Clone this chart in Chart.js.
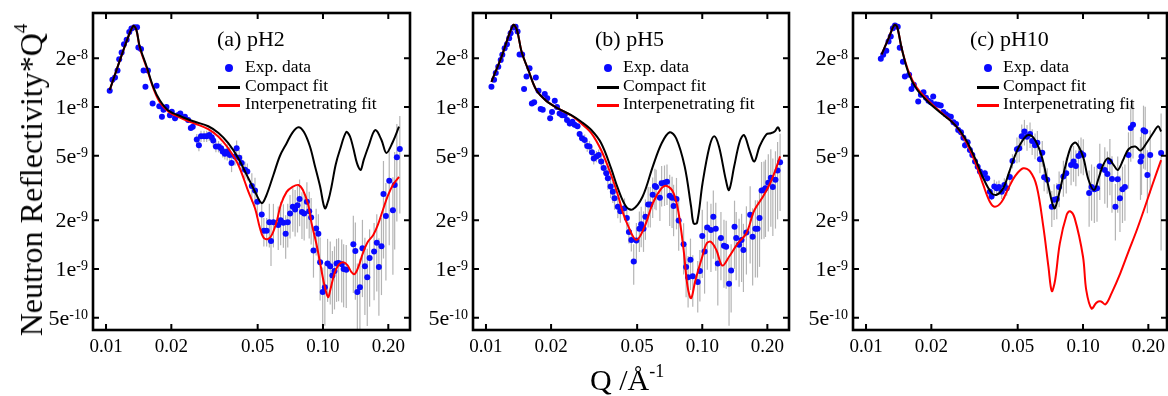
<!DOCTYPE html>
<html>
<head>
<meta charset="utf-8">
<script src="https://cdn.jsdelivr.net/npm/chart.js@4.4.1/dist/chart.umd.min.js"></script>
<style>
  body { margin: 0; width: 1168px; height: 396px; overflow: hidden; position: relative; background: #fff;
         font-family: "Liberation Serif", "Times New Roman", serif; color: #000; }
  .panel { position: absolute; top: 0; }
  .txt { position: absolute; white-space: nowrap; line-height: 1; }
  .title { font-size: 22px; }
  .leg { font-size: 17.5px; }
  .dot { position: absolute; width: 8px; height: 8px; border-radius: 50%; background: rgb(10,10,255); }
  .bar { position: absolute; width: 22px; height: 2.5px; }
  .sup { position: relative; }
</style>
</head>
<body>

<div class="panel" style="left:40px"><canvas id="chartA" width="378" height="370"></canvas></div>
<div class="panel" style="left:420px"><canvas id="chartB" width="377" height="370"></canvas></div>
<div class="panel" style="left:800px"><canvas id="chartC" width="375" height="370"></canvas></div>

<!-- panel titles and legends -->
<div class="txt title" style="left:217px;top:28px">(a) pH2</div>
<div class="dot" style="left:225px;top:64px"></div>
<div class="txt leg" style="left:245px;top:58px">Exp. data</div>
<div class="bar" style="left:218px;top:86px;background:#000"></div>
<div class="txt leg" style="left:245px;top:77px">Compact fit</div>
<div class="bar" style="left:218px;top:104px;background:#f00"></div>
<div class="txt leg" style="left:245px;top:95px">Interpenetrating fit</div>

<div class="txt title" style="left:595px;top:28px">(b) pH5</div>
<div class="dot" style="left:604px;top:64px"></div>
<div class="txt leg" style="left:623px;top:58px">Exp. data</div>
<div class="bar" style="left:597px;top:86px;background:#000"></div>
<div class="txt leg" style="left:623px;top:77px">Compact fit</div>
<div class="bar" style="left:597px;top:104px;background:#f00"></div>
<div class="txt leg" style="left:623px;top:95px">Interpenetrating fit</div>

<div class="txt title" style="left:970px;top:28px">(c) pH10</div>
<div class="dot" style="left:984px;top:64px"></div>
<div class="txt leg" style="left:1003px;top:58px">Exp. data</div>
<div class="bar" style="left:977px;top:86px;background:#000"></div>
<div class="txt leg" style="left:1003px;top:77px">Compact fit</div>
<div class="bar" style="left:977px;top:104px;background:#f00"></div>
<div class="txt leg" style="left:1003px;top:95px">Interpenetrating fit</div>

<!-- axis titles -->
<div class="txt" style="left:31px;top:180px;font-size:32px;transform:translate(-50%,-50%) rotate(-90deg)">Neutron Reflectivity*Q<span class="sup" style="font-size:19px;top:-15px">4</span></div>
<div class="txt" style="left:590px;top:365px;font-size:30px">Q /Å<span class="sup" style="font-size:18px;top:-13px">-1</span></div>

<script>
// axis ticks
const xTicks = [0.01, 0.02, 0.05, 0.1, 0.2];
const xTickLabels = ['0.01', '0.02', '0.05', '0.10', '0.20'];
const yTicks = [5e-10, 1e-9, 2e-9, 5e-9, 1e-8, 2e-8];
const yTickLabels = [['5e', '-10'], ['1e', '-9'], ['2e', '-9'], ['5e', '-9'], ['1e', '-8'], ['2e', '-8']];

// (a) pH2 : experimental data, relative errors
const qA = [0.0104,0.0107,0.0110,0.0113,0.0115,0.0118,0.0121,0.01245,0.0128,0.0131,
  0.0135,0.0139,0.0141,0.0145,0.0149,0.0152,0.0156,0.0164,0.0171,0.0176,
  0.0181,0.0184,0.0190,0.0197,0.0201,0.0208,0.0214,0.0220,0.0231,0.0239,
  0.0246,0.0251,0.0262,0.0268,0.0274,0.0283,0.0291,0.0299,0.0307,0.0312,
  0.0321,0.0330,0.0339,0.0345,0.0353,0.0362,0.0372,0.0379,0.0393,0.0400,
  0.0411,0.0422,0.0437,0.0448,0.0470,0.0486,0.0498,0.0522,0.0534,0.0550,
  0.0566,0.0576,0.0591,0.0622,0.0638,0.0657,0.0673,0.0688,0.0705,0.0726,
  0.0744,0.0763,0.0780,0.0800,0.0819,0.0843,0.0864,0.0882,0.0904,0.0930,
  0.0952,0.0970,0.0997,0.1020,0.1050,0.1080,0.1105,0.1130,0.1155,0.1180,
  0.1220,0.1245,0.1280,0.1380,0.1410,0.1440,0.1480,0.1520,0.1560,0.1600,
  0.1640,0.1720,0.1770,0.1810,0.1860,0.1900,0.1950,0.2020,0.2100,0.2140,
  0.2190,0.2260];
const rA = [1.26e-8,1.47e-8,1.52e-8,1.68e-8,1.97e-8,2.17e-8,2.44e-8,2.60e-8,2.90e-8,3.05e-8,
  3.10e-8,3.10e-8,2.33e-8,2.28e-8,1.68e-8,1.33e-8,1.68e-8,1.05e-8,1.35e-8,1.01e-8,
  8.7e-9,9.6e-9,1.00e-8,8.9e-9,9.35e-9,8.5e-9,8.9e-9,9.1e-9,8.7e-9,8.3e-9,
  7.4e-9,7.55e-9,6.3e-9,5.8e-9,6.6e-9,6.6e-9,6.6e-9,6.7e-9,6.5e-9,6.2e-9,
  5.7e-9,5.7e-9,5.55e-9,5.3e-9,5.15e-9,5.3e-9,5.05e-9,4.5e-9,4.95e-9,5.55e-9,
  4.85e-9,4.5e-9,4.1e-9,4.0e-9,3.25e-9,3.05e-9,2.6e-9,2.17e-9,1.72e-9,1.72e-9,
  1.94e-9,1.49e-9,1.94e-9,1.87e-9,2.0e-9,1.93e-9,1.65e-9,1.94e-9,2.2e-9,2.42e-9,
  2.33e-9,2.47e-9,2.7e-9,2.25e-9,2.2e-9,2.6e-9,2.27e-9,2.08e-9,1.30e-9,1.78e-9,
  1.65e-9,1.10e-9,7.2e-10,7.7e-10,1.08e-9,1.04e-9,9.1e-10,9.7e-10,1.08e-9,1.09e-9,
  1.07e-9,1.0e-9,9.9e-10,1.42e-9,1.29e-9,7.2e-10,7.7e-10,1.34e-9,1.04e-9,8.9e-10,
  1.17e-9,1.28e-9,1.45e-9,1.03e-9,1.38e-9,2.9e-9,2.12e-9,3.5e-9,2.3e-9,3.3e-9,
  4.9e-9,5.5e-9];
const errA = [0.02,0.02,0.02,0.02,0.02,0.02,0.02,0.02,0.02,0.02,
  0.02,0.02,0.02,0.02,0.02,0.02,0.02,0.02,0.02,0.02,
  0.04,0.04,0.04,0.04,0.04,0.04,0.04,0.04,0.04,0.04,
  0.04,0.04,0.08,0.08,0.08,0.08,0.08,0.08,0.08,0.08,
  0.08,0.08,0.08,0.08,0.08,0.12,0.12,0.12,0.12,0.12,
  0.12,0.12,0.12,0.12,0.2,0.2,0.2,0.2,0.2,0.2,
  0.3,0.3,0.3,0.3,0.3,0.3,0.3,0.3,0.3,0.3,
  0.32,0.32,0.32,0.32,0.32,0.32,0.32,0.32,0.32,0.32,
  0.32,0.42,0.42,0.42,0.42,0.42,0.42,0.42,0.42,0.42,
  0.42,0.42,0.42,0.5,0.5,0.5,0.5,0.5,0.5,0.5,
  0.5,0.5,0.5,0.5,0.5,0.6,0.6,0.6,0.6,0.6,
  0.6,0.6];
const compactQA = [0.0104,0.0116,0.0126,0.01336,0.0138,0.0143,0.0154,0.0165,0.0177,0.0194,0.0223,0.0257,0.0296,0.033,0.0366,0.0407,0.0453,0.0486,0.0522,0.0546,0.0591,0.0633,0.068,0.0721,0.077,0.0817,0.0871,0.0915,0.097,0.102,0.106,0.1095,0.1144,0.1195,0.128,0.133,0.138,0.1434,0.149,0.154,0.162,0.174,0.186,0.196,0.21,0.224];
const compactRA = [1.27e-8,1.95e-8,2.66e-8,3.16e-8,2.99e-8,2.36e-8,1.77e-8,1.33e-8,1.1e-8,9.5e-9,8.7e-9,8.1e-9,7.6e-9,6.9e-9,5.97e-9,4.82e-9,3.63e-9,3.0e-9,2.55e-9,2.8e-9,3.8e-9,4.98e-9,5.97e-9,6.9e-9,7.5e-9,7.0e-9,5.7e-9,4.4e-9,3.23e-9,2.37e-9,2.67e-9,3.23e-9,4.4e-9,5.4e-9,7.0e-9,6.6e-9,5.56e-9,4.5e-9,4.08e-9,4.7e-9,5.7e-9,7.2e-9,6.25e-9,5.2e-9,6.1e-9,7.55e-9];
const interQA = [0.0104,0.0116,0.0126,0.01336,0.0138,0.0143,0.0154,0.0165,0.0177,0.0194,0.0223,0.0257,0.0296,0.033,0.0366,0.0407,0.0453,0.0486,0.0512,0.0532,0.0558,0.0582,0.0611,0.0639,0.068,0.0721,0.077,0.0808,0.0855,0.0885,0.093,0.097,0.101,0.1055,0.108,0.113,0.118,0.1235,0.1293,0.135,0.14,0.146,0.1527,0.161,0.1705,0.179,0.189,0.1987,0.21,0.224];
const interRA = [1.27e-8,1.95e-8,2.66e-8,3.16e-8,2.99e-8,2.33e-8,1.74e-8,1.31e-8,1.07e-8,9.35e-9,8.5e-9,7.9e-9,7.3e-9,6.55e-9,5.56e-9,4.4e-9,3.0e-9,2.37e-9,1.79e-9,1.56e-9,1.53e-9,1.63e-9,1.95e-9,2.49e-9,2.99e-9,3.2e-9,3.3e-9,3.07e-9,2.49e-9,1.93e-9,1.45e-9,1.09e-9,8.2e-10,6.7e-10,7.4e-10,9.4e-10,1.06e-9,1.1e-9,1.06e-9,9.6e-10,9.3e-10,1.04e-9,1.25e-9,1.47e-9,1.62e-9,1.87e-9,2.32e-9,2.82e-9,3.3e-9,3.7e-9];

// (b) pH5
const qB = [0.0106,0.0109,0.0111,0.0114,0.0117,0.0119,0.0122,0.0125,0.0128,0.0130,
  0.01336,0.0137,0.0140,0.0143,0.0147,0.0150,0.0154,0.0159,0.0163,0.0167,
  0.0170,0.0175,0.0179,0.0183,0.0187,0.0192,0.0198,0.0202,0.0208,0.0213,
  0.0219,0.0225,0.0231,0.0237,0.0244,0.0251,0.0257,0.0265,0.0271,0.0278,
  0.0286,0.0294,0.0301,0.0309,0.0315,0.0324,0.0332,0.0341,0.0350,0.0360,
  0.0366,0.0377,0.0386,0.0393,0.0407,0.0418,0.0437,0.0448,0.0458,0.0470,
  0.0482,0.0496,0.0512,0.0522,0.0535,0.0546,0.0562,0.0575,0.0590,0.0604,
  0.0612,0.0637,0.0649,0.0669,0.0687,0.0707,0.0725,0.0737,0.0760,0.0778,
  0.0820,0.0842,0.0860,0.0882,0.0904,0.0953,0.0975,0.1000,0.1025,0.1055,
  0.1097,0.1125,0.1155,0.1180,0.1220,0.1260,0.1290,0.1330,0.1360,0.1410,
  0.1435,0.1480,0.1520,0.1550,0.1600,0.1665,0.1710,0.1760,0.1800,0.1840,
  0.1880,0.1930,0.1960,0.2020,0.2075,0.2120,0.2180,0.2230,0.2290];
const rB = [1.33e-8,1.47e-8,1.62e-8,1.77e-8,1.95e-8,2.1e-8,2.3e-8,2.44e-8,2.65e-8,2.85e-8,
  3.09e-8,3.13e-8,2.92e-8,2.11e-8,2.11e-8,1.29e-8,1.54e-8,1.73e-8,1.05e-8,1.07e-8,
  1.52e-8,1.26e-8,9.7e-9,9.6e-9,1.2e-8,1.13e-8,8.5e-9,9.3e-9,1.09e-8,1.0e-8,
  9.1e-9,8.9e-9,8.9e-9,8.3e-9,7.9e-9,8.1e-9,7.75e-9,7.6e-9,6.8e-9,6.4e-9,
  6.25e-9,5.75e-9,5.7e-9,5.25e-9,4.8e-9,4.95e-9,5.05e-9,4.6e-9,4.2e-9,3.9e-9,
  3.63e-9,3.23e-9,3.0e-9,2.73e-9,2.42e-9,2.27e-9,2.37e-9,2.06e-9,1.69e-9,1.51e-9,
  1.11e-9,1.50e-9,1.77e-9,1.89e-9,1.77e-9,2.1e-9,2.5e-9,2.5e-9,2.87e-9,3.25e-9,
  3.2e-9,2.75e-9,3.38e-9,3.4e-9,3.45e-9,2.83e-9,2.75e-9,2.45e-9,2.7e-9,1.99e-9,
  1.42e-9,1.03e-9,8.9e-10,1.14e-9,9.0e-10,8.3e-10,9.7e-10,1.6e-9,1.28e-9,1.8e-9,
  1.74e-9,2.1e-9,1.77e-9,1.08e-9,1.55e-9,1.39e-9,1.37e-9,8.1e-10,9.8e-10,1.82e-9,
  1.55e-9,1.41e-9,1.51e-9,1.31e-9,1.68e-9,2.16e-9,1.58e-9,1.77e-9,1.77e-9,2.06e-9,
  3.05e-9,3.07e-9,3.15e-9,3.4e-9,3.65e-9,3.2e-9,3.55e-9,4.05e-9,4.55e-9];
const errB = [0.02,0.02,0.02,0.02,0.02,0.02,0.02,0.02,0.02,0.02,
  0.02,0.02,0.02,0.02,0.02,0.02,0.02,0.02,0.02,0.02,
  0.02,0.02,0.02,0.02,0.02,0.04,0.04,0.04,0.04,0.04,
  0.04,0.04,0.04,0.04,0.04,0.04,0.04,0.04,0.04,0.04,
  0.08,0.08,0.08,0.08,0.08,0.08,0.08,0.08,0.08,0.08,
  0.15,0.15,0.15,0.15,0.15,0.15,0.15,0.15,0.15,0.15,
  0.28,0.28,0.28,0.28,0.28,0.28,0.28,0.28,0.28,0.28,
  0.28,0.28,0.28,0.28,0.28,0.35,0.35,0.35,0.35,0.35,
  0.35,0.35,0.35,0.35,0.35,0.35,0.35,0.45,0.45,0.45,
  0.45,0.45,0.45,0.45,0.45,0.45,0.45,0.45,0.45,0.45,
  0.45,0.45,0.45,0.45,0.45,0.5,0.5,0.5,0.5,0.5,
  0.5,0.5,0.5,0.5,0.5,0.5,0.5,0.5,0.5];
const compactQB = [0.0106,0.0118,0.01336,0.0139,0.0146,0.0157,0.0171,0.019,0.0215,0.0248,0.0276,0.0307,0.0341,0.0379,0.0407,0.0445,0.0477,0.053,0.0591,0.0649,0.0707,0.0758,0.0829,0.0888,0.0912,0.0946,0.1003,0.108,0.1136,0.1195,0.1285,0.133,0.1405,0.149,0.156,0.1654,0.174,0.184,0.198,0.2075,0.216,0.224,0.229];
const compactRB = [1.43e-8,2.04e-8,3.2e-8,2.99e-8,2.2e-8,1.69e-8,1.27e-8,1.09e-8,9.8e-9,8.9e-9,8.1e-9,7.2e-9,5.97e-9,4.18e-9,3.15e-9,2.42e-9,2.33e-9,2.8e-9,4.3e-9,5.97e-9,6.98e-9,6.4e-9,4.3e-9,2.42e-9,1.91e-9,1.93e-9,3.38e-9,5.7e-9,6.6e-9,5.7e-9,3.55e-9,3.07e-9,4.3e-9,6.1e-9,6.7e-9,5.4e-9,4.6e-9,5.7e-9,6.78e-9,6.88e-9,7.05e-9,7.5e-9,7.05e-9];
const interQB = [0.0106,0.0118,0.01336,0.0139,0.0146,0.0157,0.0171,0.019,0.0215,0.0248,0.0276,0.0307,0.0341,0.0379,0.0407,0.0431,0.0452,0.0496,0.0541,0.0591,0.0649,0.0687,0.0737,0.0778,0.082,0.0855,0.0888,0.0929,0.1,0.1049,0.1097,0.1162,0.1238,0.133,0.146,0.16,0.174,0.191,0.206,0.218,0.229];
const interRB = [1.43e-8,2.04e-8,3.2e-8,2.99e-8,2.2e-8,1.69e-8,1.27e-8,1.09e-8,9.8e-9,8.85e-9,7.9e-9,6.9e-9,5.4e-9,3.8e-9,2.87e-9,2.2e-9,1.87e-9,1.51e-9,1.82e-9,2.55e-9,3.15e-9,3.25e-9,2.94e-9,2.2e-9,1.31e-9,7.8e-10,6.6e-10,8.5e-10,1.19e-9,1.44e-9,1.47e-9,1.31e-9,1.05e-9,1.19e-9,1.44e-9,1.66e-9,2.3e-9,2.8e-9,3.38e-9,4.08e-9,4.95e-9];

// (c) pH10
const qC = [0.0117,0.0120,0.0124,0.0127,0.0130,0.0133,0.0136,0.0140,0.0143,0.0148,
  0.0151,0.0158,0.0162,0.0166,0.0174,0.0179,0.0184,0.0189,0.0194,0.0199,
  0.0204,0.0209,0.0215,0.0221,0.0227,0.0233,0.0239,0.0246,0.0253,0.0260,
  0.0266,0.0274,0.0281,0.0286,0.0294,0.0301,0.0309,0.0318,0.0327,0.0335,
  0.0345,0.0353,0.0362,0.0372,0.0379,0.0390,0.0400,0.0410,0.0422,0.0434,
  0.0445,0.0460,0.0473,0.0496,0.0508,0.0522,0.0537,0.0552,0.0570,0.0583,
  0.0601,0.0616,0.0633,0.0649,0.0662,0.0684,0.0718,0.0736,0.0757,0.0776,
  0.0812,0.0837,0.0881,0.0904,0.0927,0.0953,0.0979,0.1003,0.1067,0.1095,
  0.1128,0.1160,0.1195,0.1260,0.1295,0.1330,0.1360,0.1410,0.1445,0.1480,
  0.1520,0.1560,0.1620,0.1660,0.1700,0.1840,0.1860,0.1900,0.1935,0.1980,
  0.2040,0.2290];
const rC = [1.98e-8,2.1e-8,2.22e-8,2.53e-8,2.72e-8,3.06e-8,3.18e-8,3.13e-8,2.32e-8,1.9e-8,
  1.54e-8,1.58e-8,1.29e-8,1.37e-8,1.08e-8,1.19e-8,1.23e-8,1.14e-8,1.09e-8,1.07e-8,
  1.16e-8,1.04e-8,1.03e-8,1.02e-8,9.3e-9,9.0e-9,8.8e-9,8.7e-9,8.05e-9,7.85e-9,
  7.2e-9,6.97e-9,6.45e-9,5.8e-9,6.05e-9,5.43e-9,5.05e-9,4.6e-9,4.28e-9,4.0e-9,
  3.8e-9,3.9e-9,3.63e-9,3.0e-9,2.8e-9,3.23e-9,3.15e-9,3.2e-9,3.0e-9,3.3e-9,
  3.15e-9,3.7e-9,4.64e-9,5.48e-9,5.55e-9,6.6e-9,7.05e-9,6.55e-9,6.8e-9,6.17e-9,
  5.8e-9,6.02e-9,4.76e-9,5.22e-9,3.68e-9,3.55e-9,2.42e-9,2.67e-9,2.7e-9,3.2e-9,
  3.72e-9,3.9e-9,4.38e-9,4.6e-9,4.32e-9,4.98e-9,5.18e-9,5.05e-9,2.94e-9,3.2e-9,
  3.1e-9,3.15e-9,4.3e-9,4.08e-9,3.85e-9,4.6e-9,3.59e-9,2.42e-9,3.58e-9,2.73e-9,
  3.1e-9,3.2e-9,5.05e-9,7.4e-9,7.75e-9,4.6e-9,4.94e-9,7.17e-9,7.05e-9,3.8e-9,
  5.05e-9,5.2e-9];
const errC = [0.02,0.02,0.02,0.02,0.02,0.02,0.02,0.02,0.02,0.02,
  0.02,0.02,0.02,0.02,0.02,0.02,0.02,0.02,0.02,0.02,
  0.02,0.02,0.02,0.02,0.02,0.02,0.02,0.02,0.02,0.02,
  0.05,0.05,0.05,0.05,0.05,0.05,0.05,0.05,0.05,0.05,
  0.05,0.05,0.05,0.05,0.05,0.1,0.1,0.1,0.1,0.1,
  0.1,0.1,0.1,0.18,0.18,0.18,0.18,0.18,0.18,0.18,
  0.18,0.18,0.18,0.18,0.18,0.18,0.25,0.25,0.25,0.25,
  0.25,0.25,0.25,0.25,0.25,0.25,0.25,0.25,0.38,0.38,
  0.38,0.38,0.38,0.38,0.38,0.38,0.38,0.38,0.38,0.38,
  0.38,0.38,0.38,0.38,0.38,0.42,0.42,0.42,0.42,0.42,
  0.42,0.75];
const compactQC = [0.0118,0.0127,0.0135,0.0139,0.0146,0.0157,0.0171,0.0194,0.0223,0.0257,0.0286,0.0318,0.0347,0.0379,0.040,0.0429,0.0455,0.0487,0.0522,0.056,0.0601,0.0649,0.0693,0.0737,0.077,0.0829,0.0881,0.0927,0.1,0.106,0.1125,0.118,0.1238,0.1305,0.1385,0.1445,0.153,0.162,0.174,0.184,0.198,0.21,0.222,0.229];
const compactRC = [2.11e-8,2.65e-8,3.2e-8,3.13e-8,2.3e-8,1.62e-8,1.29e-8,1.07e-8,9.1e-9,7.75e-9,6.4e-9,4.82e-9,3.63e-9,2.94e-9,2.87e-9,3.15e-9,3.9e-9,5.05e-9,6.1e-9,6.7e-9,6.25e-9,4.82e-9,3.23e-9,2.37e-9,2.8e-9,4.3e-9,5.7e-9,6.02e-9,4.94e-9,3.55e-9,3.07e-9,3.63e-9,4.38e-9,4.82e-9,4.38e-9,4.08e-9,4.7e-9,5.48e-9,5.7e-9,5.38e-9,6.1e-9,6.88e-9,7.6e-9,7.05e-9];
const interQC = [0.0118,0.0127,0.0135,0.0139,0.0146,0.0157,0.0171,0.0194,0.0223,0.0257,0.0286,0.0318,0.0347,0.0372,0.0393,0.0422,0.0453,0.0487,0.053,0.057,0.0612,0.0656,0.0693,0.0718,0.0744,0.0782,0.0841,0.0871,0.0915,0.1,0.1035,0.1095,0.1155,0.121,0.127,0.1355,0.1485,0.162,0.177,0.193,0.21,0.229];
const interRC = [2.11e-8,2.65e-8,3.2e-8,3.13e-8,2.3e-8,1.66e-8,1.32e-8,1.09e-8,9.2e-9,7.75e-9,6.25e-9,4.6e-9,3.3e-9,2.6e-9,2.42e-9,2.6e-9,3.15e-9,3.75e-9,4.18e-9,4.0e-9,3.23e-9,1.83e-9,1.03e-9,7.3e-10,8.55e-10,1.44e-9,2.16e-9,2.27e-9,2.06e-9,1.19e-9,7.4e-10,5.7e-10,6.2e-10,6.3e-10,6.05e-10,7.1e-10,9.4e-10,1.28e-9,1.74e-9,2.42e-9,3.38e-9,4.7e-9];

const Y_MIN = 4.2e-10, Y_MAX = 3.8e-8, X_MIN = 0.00871;
const FONT = '"Liberation Serif", "Times New Roman", serif';

// error bars behind the points, then a framed box with inward ticks and labels
const framePlugin = {
    id: 'frame',
    beforeDatasetsDraw(chart) {
        const { ctx, chartArea: a, scales: { x, y } } = chart;
        const ds = chart.data.datasets[0];
        ctx.save();
        ctx.beginPath();
        ctx.rect(a.left, a.top, a.right - a.left, a.bottom - a.top);
        ctx.clip();
        ctx.strokeStyle = '#b4b4b4';
        ctx.lineWidth = 1.2;
        ds.data.forEach((p, i) => {
            const e = ds.relErr[i] * p.y;
            const px = x.getPixelForValue(p.x);
            const top = y.getPixelForValue(p.y + e);
            const bot = p.y - e > 0 ? y.getPixelForValue(p.y - e) : a.bottom;
            ctx.beginPath();
            ctx.moveTo(px, top);
            ctx.lineTo(px, bot);
            ctx.stroke();
        });
        ctx.restore();
    },
    afterDraw(chart) {
        const { ctx, chartArea: a, scales: { x, y } } = chart;
        ctx.save();
        ctx.strokeStyle = '#000';
        ctx.lineWidth = 2;
        const len = 6;
        xTicks.forEach(v => {
            const px = x.getPixelForValue(v);
            ctx.beginPath();
            ctx.moveTo(px, a.bottom); ctx.lineTo(px, a.bottom - len);
            ctx.moveTo(px, a.top); ctx.lineTo(px, a.top + len);
            ctx.stroke();
        });
        yTicks.forEach(v => {
            const py = y.getPixelForValue(v);
            ctx.beginPath();
            ctx.moveTo(a.left, py); ctx.lineTo(a.left + len, py);
            ctx.moveTo(a.right, py); ctx.lineTo(a.right - len, py);
            ctx.stroke();
        });
        ctx.lineWidth = 2.6;
        ctx.strokeRect(a.left, a.top, a.right - a.left, a.bottom - a.top);

        ctx.fillStyle = '#000';
        ctx.textBaseline = 'alphabetic';
        ctx.textAlign = 'center';
        ctx.font = '19px ' + FONT;
        xTicks.forEach((v, i) => {
            ctx.fillText(xTickLabels[i], x.getPixelForValue(v), a.bottom + 22);
        });
        ctx.textAlign = 'left';
        yTicks.forEach((v, i) => {
            const py = y.getPixelForValue(v);
            const [m, s] = yTickLabels[i];
            ctx.font = '14px ' + FONT;
            const sw = ctx.measureText(s).width;
            ctx.font = '22px ' + FONT;
            const mw = ctx.measureText(m).width;
            const right = a.left - 5;
            ctx.fillText(m, right - sw - mw, py + 7);
            ctx.font = '14px ' + FONT;
            ctx.fillText(s, right - sw, py + 1);
        });
        ctx.restore();
    }
};

function pairs(xs, ys) {
    return xs.map((v, i) => ({ x: v, y: ys[i] }));
}

function makePanel(id, q, r, err, cq, cr, iq, ir, xMax) {
    return new Chart(document.getElementById(id), {
        type: 'scatter',
        data: {
            datasets: [
                { label: 'Exp. data', data: pairs(q, r), relErr: err,
                  backgroundColor: 'rgb(10,10,255)', borderWidth: 0, pointRadius: 3, order: 2 },
                { type: 'line', label: 'Interpenetrating fit', data: pairs(iq, ir),
                  borderColor: '#ff0000', borderWidth: 2, pointRadius: 0, tension: 0.35, fill: false, order: 1 },
                { type: 'line', label: 'Compact fit', data: pairs(cq, cr),
                  borderColor: '#000000', borderWidth: 2, pointRadius: 0, tension: 0.35, fill: false, order: 0 }
            ]
        },
        options: {
            responsive: false,
            animation: false,
            events: [],
            layout: { padding: { top: 13, right: 8, left: 0, bottom: 0 } },
            plugins: { legend: { display: false }, tooltip: { enabled: false } },
            scales: {
                x: { type: 'logarithmic', min: X_MIN, max: xMax,
                     grid: { display: false }, border: { display: false }, ticks: { display: false },
                     afterFit(s) { s.height = 40; } },
                y: { type: 'logarithmic', min: Y_MIN, max: Y_MAX,
                     grid: { display: false }, border: { display: false }, ticks: { display: false },
                     afterFit(s) { s.width = 53; } }
            }
        },
        plugins: [framePlugin]
    });
}

makePanel('chartA', qA, rA, errA, compactQA, compactRA, interQA, interRA, 0.2518);
makePanel('chartB', qB, rB, errB, compactQB, compactRB, interQB, interRB, 0.2518);
makePanel('chartC', qC, rC, errC, compactQC, compactRC, interQC, interRC, 0.2438);
</script>
</body>
</html>
